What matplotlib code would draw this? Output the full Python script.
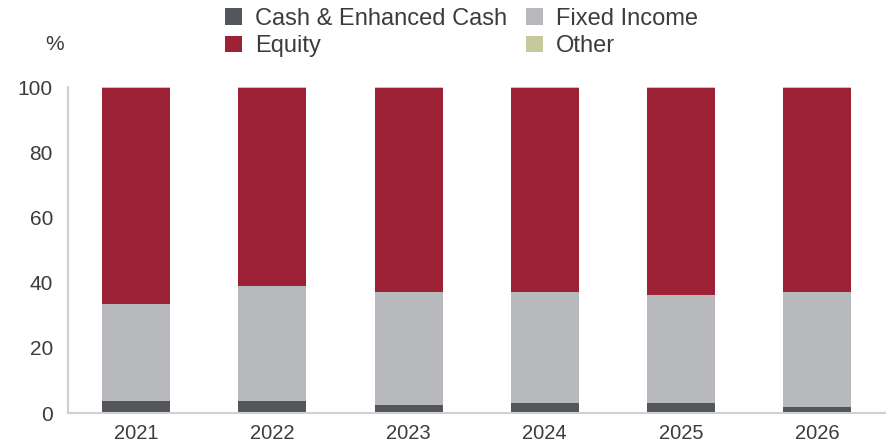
import numpy as np
import matplotlib
matplotlib.use("Agg")
import matplotlib.pyplot as plt

plt.rcParams['font.family'] = ['Liberation Sans', 'DejaVu Sans']

years = ['2021', '2022', '2023', '2024', '2025', '2026']
cash = [3.6, 3.6, 2.4, 3.2, 3.2, 1.8]
fixed_income = [29.8, 35.5, 34.6, 33.8, 33.1, 35.2]
other = [0.4, 0.4, 0.4, 0.4, 0.4, 0.4]
equity = [100 - c - f - o for c, f, o in zip(cash, fixed_income, other)]

colors = {'cash': '#53565a', 'fixed': '#b7b9bd', 'equity': '#9e2236', 'other': '#c5c99c'}
text_color = '#3c3c3c'

fig = plt.figure(figsize=(8.86, 4.47), dpi=100)
ax = fig.add_axes([0.077, 0.076, 0.922, 0.729])

x = np.arange(len(years))
w = 0.5
b1 = ax.bar(x, cash, w, color=colors['cash'], label='Cash & Enhanced Cash')
bottom = np.array(cash)
b2 = ax.bar(x, fixed_income, w, bottom=bottom, color=colors['fixed'], label='Fixed Income')
bottom = bottom + np.array(fixed_income)
b3 = ax.bar(x, equity, w, bottom=bottom, color=colors['equity'], label='Equity')
bottom = bottom + np.array(equity)
b4 = ax.bar(x, other, w, bottom=bottom, color=colors['other'], label='Other')

ax.set_xlim(-0.5, 5.5)
ax.set_ylim(0, 100)
ax.set_yticks([0, 20, 40, 60, 80, 100])
ax.set_xticks(x)
ax.set_xticklabels(years)
ax.tick_params(axis='y', length=0, labelsize=15, colors=text_color, pad=11)
ax.tick_params(axis='x', length=0, labelsize=14.5, colors=text_color, pad=8)

for s in ['top', 'right']:
    ax.spines[s].set_visible(False)
for s in ['left', 'bottom']:
    ax.spines[s].set_color('#d0d0d0')
    ax.spines[s].set_linewidth(1.5)

fig.text(55 / 886, 1 - 44 / 447, '%', fontsize=15, color=text_color, ha='center', va='center')

fig.legend([b1, b3, b2, b4], ['Cash & Enhanced Cash', 'Equity', 'Fixed Income', 'Other'],
           ncol=2, loc='upper left', bbox_to_anchor=(225 / 886, 1 - 8 / 447), frameon=False,
           fontsize=17, handlelength=0.72, handleheight=0.72, handletextpad=0.55,
           columnspacing=0.8, labelspacing=0.22, labelcolor=text_color,
           borderaxespad=0.0, borderpad=0.0)

fig.savefig('out.png', dpi=100)
